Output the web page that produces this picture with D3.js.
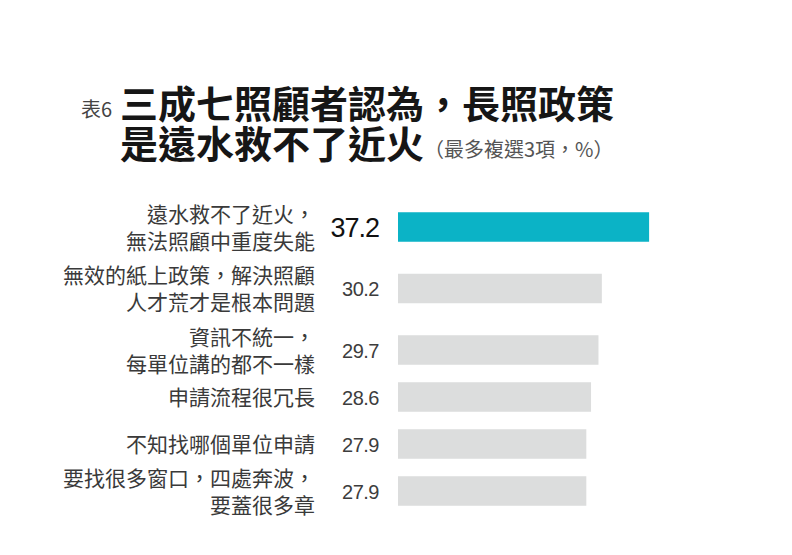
<!DOCTYPE html>
<html>
<head>
<meta charset="utf-8">
<script src="https://cdn.jsdelivr.net/npm/d3@7"></script>
<style>
  html, body { margin: 0; padding: 0; background: #fff; }
  svg { display: block; }
</style>
</head>
<body>
<svg id="chart" width="792" height="555"></svg>
<script>
// ---- data ----
const tableNo = "表6";
const titleLines = ["三成七照顧者認為，長照政策", "是遠水救不了近火"];
const subtitle = "（最多複選3項，%）";
const categories = [
  ["遠水救不了近火，", "無法照顧中重度失能"],
  ["無效的紙上政策，解決照顧", "人才荒才是根本問題"],
  ["資訊不統一，", "每單位講的都不一樣"],
  ["申請流程很冗長"],
  ["不知找哪個單位申請"],
  ["要找很多窗口，四處奔波，", "要蓋很多章"]
];
const values = [37.2, 30.2, 29.7, 28.6, 27.9, 27.9];
const highlightIndex = 0;

// ---- layout ----
const W = 792, H = 555;
const cjk = "'Noto Sans CJK TC', 'Noto Sans CJK SC', sans-serif";
const num = "'Liberation Sans', Arial, sans-serif";
const svg = d3.select("#chart");
svg.append("rect").attr("width", W).attr("height", H).attr("fill", "#fff");

// title
svg.append("text").attr("x", 81).attr("y", 117)
  .attr("font-family", cjk).attr("font-size", 20).attr("fill", "#444")
  .text(tableNo);
titleLines.forEach((t, i) => {
  svg.append("text").attr("x", 120).attr("y", 118 + i * 40)
    .attr("font-family", cjk).attr("font-size", 38).attr("font-weight", 700)
    .attr("fill", "#161616").text(t);
});
svg.append("text").attr("x", 424).attr("y", 157)
  .attr("font-family", cjk).attr("font-size", 20).attr("fill", "#555")
  .text(subtitle);

// row centres derived from label line counts
const firstCenter = 227;
const centers = [];
categories.forEach((c, i) => {
  if (i === 0) { centers.push(firstCenter); return; }
  const both = categories[i - 1].length > 1 && c.length > 1;
  centers.push(centers[i - 1] + (both ? 61.5 : 47));
});

const x = d3.scaleLinear().domain([0, 40]).range([398, 668]);
const barH = 29.5;

const rows = svg.append("g").selectAll("g")
  .data(values.map((v, i) => ({ v, i, lines: categories[i], c: centers[i] })))
  .join("g");

rows.append("rect")
  .attr("x", x(0))
  .attr("y", d => d.c - barH / 2)
  .attr("width", d => x(d.v) - x(0))
  .attr("height", barH)
  .attr("fill", d => d.i === highlightIndex ? "#0bb3c6" : "#dcdddd");

rows.append("text")
  .attr("x", 379)
  .attr("y", d => d.c + (d.i === highlightIndex ? 10 : 7.5))
  .attr("text-anchor", "end")
  .attr("font-family", num)
  .attr("font-size", d => d.i === highlightIndex ? 27 : 20)
  .attr("letter-spacing", d => d.i === highlightIndex ? -1 : -0.5)
  .attr("fill", d => d.i === highlightIndex ? "#111" : "#3d3d3d")
  .text(d => d3.format(".1f")(d.v));

rows.each(function(d) {
  const g = d3.select(this);
  const n = d.lines.length;
  d.lines.forEach((t, k) => {
    const yc = d.c + (k - (n - 1) / 2) * 27;
    g.append("text")
      .attr("x", 315)
      .attr("y", yc + 8)
      .attr("text-anchor", "end")
      .attr("font-family", cjk)
      .attr("font-size", 21)
      .attr("fill", "#3a3a3a")
      .text(t);
  });
});
</script>
</body>
</html>
